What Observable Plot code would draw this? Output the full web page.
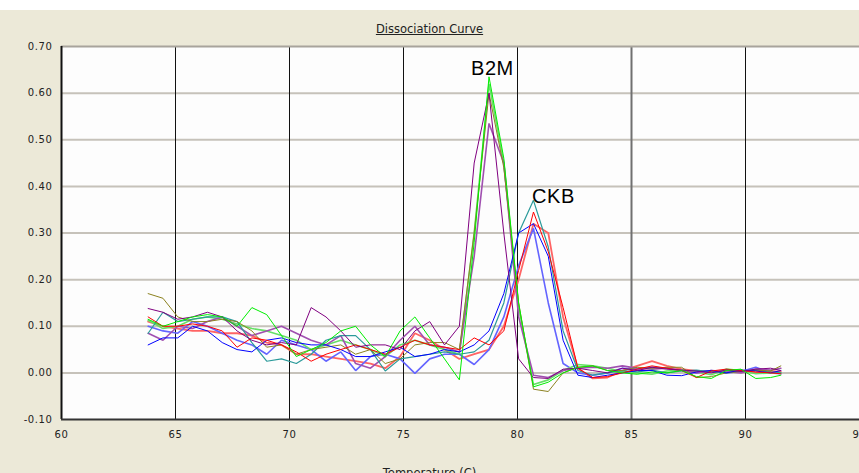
<!DOCTYPE html>
<html>
<head>
<meta charset="utf-8">
<script src="https://cdn.jsdelivr.net/npm/d3@7"></script>
<script src="https://cdn.jsdelivr.net/npm/@observablehq/plot@0.6"></script>
<style>
  html, body { margin: 0; padding: 0; background: #ffffff; width: 859px; height: 473px; overflow: hidden; }
  #wrap { position: absolute; left: 0; top: 10px; width: 859px; height: 463px; background: #ECE9D8; }
  #title { position: absolute; left: 0; top: 12px; width: 859px; text-align: center; font-family: "DejaVu Sans", sans-serif; font-size: 11.5px; color: #222; text-decoration: underline; }
  #chart { position: absolute; left: 0; top: 26px; }
  #xlabel { position: absolute; left: 0; top: 456px; width: 859px; text-align: center; font-family: "DejaVu Sans", sans-serif; font-size: 11.5px; color: #222; }
</style>
</head>
<body>
<div id="wrap">
  <div id="title">Dissociation Curve</div>
  <div id="chart"></div>
  <div id="xlabel">Temperature (C)</div>
</div>
<script>
// ---- data ----
const temps = [63.8, 64.45, 65.1, 65.75, 66.4, 67.05, 67.7, 68.35, 69.0, 69.65, 70.3, 70.95, 71.6, 72.25, 72.9, 73.55, 74.2, 74.85, 75.5, 76.15, 76.8, 77.45, 78.1, 78.75, 79.4, 80.05, 80.7, 81.35, 82.0, 82.65, 83.3, 83.95, 84.6, 85.25, 85.9, 86.55, 87.2, 87.85, 88.5, 89.15, 89.8, 90.45, 91.1, 91.55];

const green = [0.115,0.10,0.11,0.12,0.125,0.12,0.10,0.14,0.125,0.08,0.035,0.05,0.065,0.09,0.10,0.06,0.035,0.09,0.12,0.075,0.03,-0.015,0.28,0.635,0.46,0.15,-0.03,-0.02,0.0,0.012,0.015,0.005,0.0,-0.003,0.002,0.0,0.005,-0.008,-0.012,0.005,0.008,-0.012,-0.01,-0.005];
const lightGreen = [0.113,0.095,0.10,0.115,0.12,0.115,0.105,0.095,0.09,0.08,0.07,0.05,0.06,0.07,0.06,0.05,0.035,0.06,0.07,0.06,0.05,0.04,0.30,0.62,0.45,0.14,-0.025,-0.015,0.005,0.018,0.015,0.01,0.003,0.0,-0.003,0.004,0.006,0.002,-0.004,0.008,0.005,-0.002,0.0,0.0];
const purple = [0.138,0.13,0.115,0.12,0.13,0.12,0.09,0.07,0.06,0.065,0.06,0.14,0.12,0.09,0.055,0.06,0.06,0.05,0.09,0.11,0.06,0.10,0.45,0.60,0.30,0.03,-0.01,-0.012,0.008,0.01,0.005,0.0,0.01,0.005,0.012,0.008,0.006,0.004,0.0,0.006,0.003,0.008,0.01,0.005];
const lightPurple = [0.085,0.07,0.10,0.095,0.11,0.12,0.10,0.08,0.09,0.10,0.085,0.07,0.06,0.08,0.02,0.01,0.035,0.07,0.10,0.06,0.055,0.045,0.25,0.535,0.45,0.12,-0.005,-0.01,0.005,0.01,0.012,0.01,0.015,0.01,0.008,0.01,0.005,0.0,0.005,0.003,0.0,0.008,0.006,0.01];
const olive = [0.17,0.16,0.12,0.11,0.11,0.115,0.11,0.09,0.055,0.06,0.04,0.05,0.055,0.06,0.04,0.05,0.02,0.03,0.06,0.065,0.065,0.05,0.30,0.60,0.44,0.15,-0.035,-0.04,0.0,0.012,0.015,0.005,0.005,0.012,0.01,0.012,0.012,-0.01,-0.008,0.0,0.003,0.006,0.004,0.015];
const teal = [0.085,0.13,0.11,0.115,0.12,0.12,0.11,0.065,0.025,0.03,0.02,0.04,0.07,0.08,0.08,0.05,0.004,0.03,0.035,0.04,0.045,0.04,0.045,0.07,0.15,0.30,0.37,0.27,0.09,0.005,-0.005,0.0,0.005,0.002,0.006,0.0,0.004,0.006,0.002,0.0,0.004,0.006,0.002,0.0];
const red = [0.12,0.10,0.10,0.105,0.10,0.09,0.055,0.075,0.07,0.06,0.045,0.025,0.04,0.05,0.06,0.05,0.04,0.055,0.07,0.06,0.055,0.05,0.075,0.06,0.09,0.22,0.345,0.26,0.14,0.01,-0.01,-0.008,0.0,0.008,0.015,0.01,0.005,-0.01,0.004,0.008,0.005,0.002,0.0,-0.002];
const lightRed = [0.11,0.10,0.095,0.09,0.09,0.085,0.085,0.08,0.065,0.06,0.04,0.04,0.035,0.03,0.025,0.02,0.01,0.035,0.085,0.07,0.05,0.03,0.04,0.05,0.10,0.20,0.32,0.30,0.12,0.01,-0.012,-0.01,0.005,0.015,0.025,0.015,0.008,0.004,0.002,0.004,0.006,0.0,0.004,0.002];
const blue = [0.06,0.075,0.075,0.10,0.09,0.065,0.05,0.045,0.07,0.075,0.065,0.06,0.06,0.05,0.035,0.035,0.045,0.055,0.035,0.04,0.05,0.045,0.06,0.09,0.17,0.30,0.32,0.25,0.07,-0.005,-0.01,-0.005,0.0,0.005,0.005,-0.005,-0.006,0.002,0.005,0.0,0.006,0.004,0.0,0.005];
const lightBlue = [0.10,0.09,0.085,0.11,0.10,0.085,0.07,0.06,0.04,0.07,0.06,0.05,0.025,0.045,0.005,0.035,0.04,0.03,-0.001,0.03,0.04,0.04,0.018,0.05,0.12,0.23,0.31,0.15,0.02,0.0,-0.005,0.0,0.01,0.008,0.012,0.01,0.005,0.0,0.005,0.0,0.003,0.012,0.0,-0.002];

const seriesNames = ["lightRed","lightBlue","lightGreen","lightPurple","teal","olive","blue","red","purple","green"];
const seriesValues = {green, lightGreen, purple, lightPurple, olive, teal, red, lightRed, blue, lightBlue};

const xTicks = [60, 65, 70, 75, 80, 85, 90, 95];
const yTicks = [-0.1, 0, 0.1, 0.2, 0.3, 0.4, 0.5, 0.6, 0.7];
const xGrid = [65, 70, 75, 80, 90];
const xGridGray = [85];
const yGrid = [0, 0.1, 0.2, 0.3, 0.4, 0.5, 0.6];

const peakLabels = ["B2M", "CKB"];
const peakTemps = [78.9, 81.58];
const peakValues = [0.653, 0.379];

// ---- styles ----
const seriesColors = {
  green: "#00ee00", lightGreen: "#66e066", purple: "#800080", lightPurple: "#a050b0",
  olive: "#8c8220", teal: "#2a9a9a", red: "#ff0000", lightRed: "#ff6464",
  blue: "#0000ff", lightBlue: "#6464ff"
};
const seriesWidths = {
  green: 1, lightGreen: 1.6, purple: 1, lightPurple: 1.6, olive: 1, teal: 1.2,
  red: 1, lightRed: 1.8, blue: 1, lightBlue: 1.6
};

const rows = seriesNames.flatMap(s => seriesValues[s].map((v, i) => ({series: s, temp: temps[i], value: v})));
const labelRows = peakLabels.map((t, i) => ({text: t, temp: peakTemps[i], value: peakValues[i]}));

const lineMarks = seriesNames.map(s =>
  Plot.line(rows.filter(r => r.series === s), {x: "temp", y: "value", stroke: seriesColors[s], strokeWidth: seriesWidths[s], strokeLinejoin: "miter"})
);

const chart = Plot.plot({
  width: 859, height: 437,
  marginLeft: 61, marginRight: 0, marginTop: 10, marginBottom: 54,
  style: {background: "transparent", fontFamily: "DejaVu Sans, sans-serif", fontSize: "10px", color: "#222", overflow: "visible", letterSpacing: "0.6px"},
  x: {domain: [60, 95], ticks: xTicks, tickFormat: d => String(d), tickSize: 0, tickPadding: 11, label: null},
  y: {domain: [-0.1, 0.7], ticks: yTicks, tickFormat: d => d.toFixed(2), tickSize: 0, tickPadding: 9, label: null},
  marks: [
    Plot.frame({fill: "#fdfdfd", stroke: null}),
    Plot.ruleY(yGrid, {stroke: "#c6c2ba", strokeWidth: 2}),
    Plot.ruleX(xGrid, {stroke: "#111", strokeWidth: 1}),
    Plot.ruleX(xGridGray, {stroke: "#707070", strokeWidth: 2}),
    ...lineMarks,
    Plot.ruleY([0.7], {stroke: "#a8a49c", strokeWidth: 2}),
    Plot.ruleX([60], {stroke: "#111", strokeWidth: 2}),
    Plot.ruleY([-0.1], {stroke: "#333", strokeWidth: 2}),
    Plot.text(labelRows, {x: "temp", y: "value", text: "text", fontSize: 20, fontFamily: "Liberation Sans, Arial, sans-serif", fill: "#000", textAnchor: "middle", letterSpacing: "0px"})
  ]
});
document.getElementById("chart").appendChild(chart);
</script>
</body>
</html>
